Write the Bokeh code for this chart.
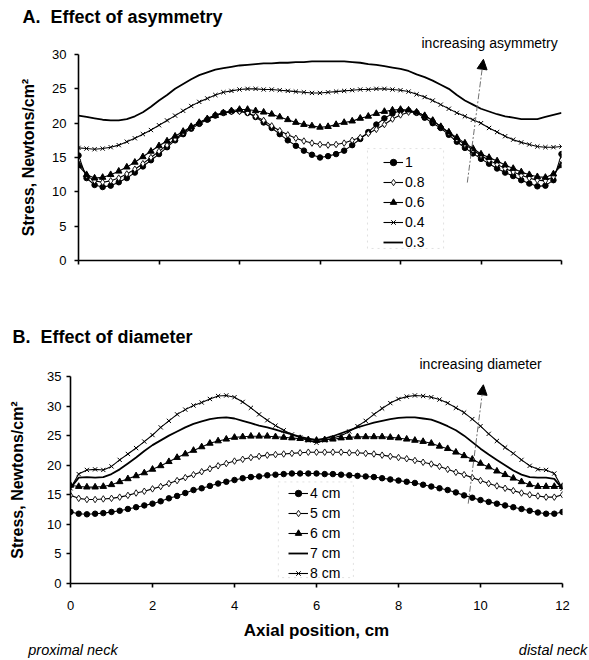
from bokeh.plotting import figure
from bokeh.models import (Range1d, Arrow, NormalHead, Legend, LegendItem,
                          FixedTicker, Title, LinearAxis, CustomJSTickFormatter,
                          BoxAnnotation)
from bokeh.layouts import column
from bokeh.embed import file_html
from bokeh.resources import INLINE

FONT = "Liberation Sans"

# ---------------- data ----------------
axial_position = [0.0, 0.2, 0.4, 0.6, 0.8, 1.0, 1.2, 1.4, 1.6, 1.8,
                  2.0, 2.2, 2.4, 2.6, 2.8, 3.0, 3.2, 3.4, 3.6, 3.8,
                  4.0, 4.2, 4.4, 4.6, 4.8, 5.0, 5.2, 5.4, 5.6, 5.8,
                  6.0, 6.2, 6.4, 6.6, 6.8, 7.0, 7.2, 7.4, 7.6, 7.8,
                  8.0, 8.2, 8.4, 8.6, 8.8, 9.0, 9.2, 9.4, 9.6, 9.8,
                  10.0, 10.2, 10.4, 10.6, 10.8, 11.0, 11.2, 11.4, 11.6, 11.8,
                  12.0]

# Panel A: effect of asymmetry
asym_labels = ["1", "0.8", "0.6", "0.4", "0.3"]
asym_1 = [15.3, 12.0, 11.0, 10.7, 10.9, 11.4, 12.0, 12.8, 13.7, 14.6,
          15.5, 16.5, 17.5, 18.4, 19.2, 19.9, 20.5, 21.1, 21.5, 21.7,
          21.8, 21.5, 20.9, 20.1, 19.3, 18.4, 17.5, 16.7, 16.0, 15.4,
          15.0, 15.2, 15.5, 16.0, 16.8, 17.7, 18.7, 19.8, 20.7, 21.4,
          21.8, 21.8, 21.5, 20.8, 20.0, 19.3, 18.3, 17.3, 16.4, 15.6,
          14.8, 14.1, 13.4, 12.8, 12.3, 11.7, 11.2, 10.8, 10.9, 11.7,
          15.5]
asym_08 = [14.6, 12.4, 11.6, 11.4, 11.6, 12.0, 12.6, 13.3, 14.1, 15.0,
           15.9, 16.8, 17.7, 18.6, 19.4, 20.1, 20.7, 21.2, 21.5, 21.7,
           21.7, 21.5, 21.0, 20.4, 19.6, 18.9, 18.3, 17.8, 17.4, 17.1,
           16.9, 16.8, 16.9, 17.1, 17.5, 17.9, 18.5, 19.1, 19.8, 20.6,
           21.2, 21.6, 21.6, 21.1, 20.4, 19.5, 18.6, 17.7, 16.9, 16.1,
           15.3, 14.6, 14.0, 13.4, 12.9, 12.4, 12.0, 11.7, 11.6, 12.2,
           14.6]
asym_06 = [13.8, 12.5, 12.0, 12.1, 12.5, 13.0, 13.6, 14.3, 15.1, 15.9,
           16.7, 17.4, 18.1, 18.8, 19.5, 20.1, 20.6, 21.1, 21.5, 21.8,
           22.0, 22.0, 21.8, 21.6, 21.3, 20.9, 20.5, 20.1, 19.8, 19.6,
           19.4, 19.5, 19.8, 20.1, 20.3, 20.7, 21.0, 21.4, 21.7, 21.9,
           22.0, 21.9, 21.6, 21.1, 20.4, 19.5, 18.7, 17.9, 17.1, 16.3,
           15.5, 15.0, 14.5, 13.9, 13.4, 12.9, 12.5, 12.2, 12.1, 12.6,
           13.8]
asym_04 = [16.4, 16.3, 16.2, 16.3, 16.5, 16.8, 17.3, 17.8, 18.4, 19.0,
           19.7, 20.4, 21.1, 21.8, 22.5, 23.1, 23.6, 24.1, 24.5, 24.7,
           24.9, 25.0, 25.0, 24.9, 24.9, 24.8, 24.7, 24.6, 24.5, 24.4,
           24.4, 24.5, 24.6, 24.7, 24.8, 24.9, 24.9, 25.0, 25.0, 24.9,
           24.8, 24.6, 24.2, 23.8, 23.3, 22.7, 22.1, 21.5, 21.0, 20.5,
           20.0, 19.3, 18.7, 18.1, 17.6, 17.2, 16.9, 16.6, 16.5, 16.5,
           16.6]
asym_03 = [21.1, 20.9, 20.7, 20.5, 20.4, 20.4, 20.6, 21.0, 21.6, 22.4,
           23.3, 24.1, 25.0, 25.7, 26.4, 27.0, 27.4, 27.8, 28.0, 28.2,
           28.4, 28.5, 28.6, 28.7, 28.7, 28.8, 28.8, 28.9, 28.9, 29.0,
           29.0, 29.0, 29.0, 29.0, 28.9, 28.8, 28.6, 28.5, 28.3, 28.1,
           27.9, 27.6, 27.1, 26.7, 26.2, 25.6, 25.0, 24.1, 23.3, 22.7,
           22.1, 21.7, 21.3, 21.0, 20.8, 20.6, 20.6, 20.6, 20.9, 21.2,
           21.5]

# Panel B: effect of diameter
diam_labels = ["4 cm", "5 cm", "6 cm", "7 cm", "8 cm"]
diam_4 = [12.1, 11.8, 11.7, 11.8, 11.9, 12.1, 12.3, 12.6, 12.9, 13.2,
          13.5, 13.9, 14.4, 14.8, 15.3, 15.8, 16.1, 16.5, 16.9, 17.2,
          17.5, 17.8, 18.0, 18.1, 18.3, 18.4, 18.5, 18.6, 18.6, 18.6,
          18.6, 18.5, 18.5, 18.4, 18.3, 18.2, 18.1, 18.0, 17.8, 17.6,
          17.4, 17.2, 17.0, 16.7, 16.4, 16.1, 15.8, 15.4, 14.9, 14.5,
          14.1, 13.8, 13.5, 13.2, 12.9, 12.6, 12.3, 12.0, 11.8, 11.8,
          12.1]
diam_5 = [14.9, 14.4, 14.2, 14.2, 14.3, 14.4, 14.6, 14.9, 15.3, 15.6,
          16.0, 16.4, 16.9, 17.4, 17.9, 18.4, 18.9, 19.4, 19.9, 20.3,
          20.7, 21.0, 21.3, 21.5, 21.7, 21.8, 21.9, 22.0, 22.1, 22.2,
          22.2, 22.2, 22.2, 22.2, 22.1, 22.1, 22.0, 21.9, 21.7, 21.5,
          21.3, 21.1, 20.8, 20.5, 20.2, 19.8, 19.3, 18.8, 18.4, 17.9,
          17.4, 16.9, 16.5, 16.1, 15.7, 15.3, 15.0, 14.8, 14.6, 14.6,
          15.0]
diam_6 = [16.6, 16.4, 16.3, 16.3, 16.4, 16.7, 17.2, 17.7, 18.2, 18.7,
          19.3, 19.9, 20.6, 21.3, 21.9, 22.5, 23.1, 23.7, 24.1, 24.4,
          24.7, 24.8, 24.9, 24.9, 24.9, 24.8, 24.7, 24.6, 24.5, 24.3,
          24.2, 24.3, 24.4, 24.6, 24.7, 24.8, 24.8, 24.8, 24.8, 24.7,
          24.6, 24.4, 24.2, 24.0, 23.7, 23.2, 22.8, 22.2, 21.6, 21.0,
          20.3, 19.7, 19.0, 18.4, 17.8, 17.2, 16.7, 16.4, 16.4, 16.4,
          16.4]
diam_7 = [16.1, 17.9, 18.0, 17.9, 18.0, 18.5, 19.3, 20.3, 21.3, 22.4,
          23.4, 24.2, 25.0, 25.7, 26.4, 27.0, 27.4, 27.8, 28.0, 28.1,
          27.9, 27.5, 27.1, 26.7, 26.4, 26.0, 25.6, 25.2, 24.8, 24.5,
          24.3, 24.5, 24.9, 25.4, 25.9, 26.4, 26.8, 27.2, 27.5, 27.8,
          28.0, 28.1, 28.1, 27.9, 27.7, 27.2, 26.6, 25.9, 25.0, 23.9,
          22.8, 21.8, 20.9, 20.0, 19.1, 18.4, 18.0, 17.9, 17.9, 17.7,
          16.0]
diam_8 = [16.1, 18.5, 19.2, 19.3, 19.2, 19.8, 20.9, 21.9, 22.9, 24.0,
          25.1, 26.4, 27.5, 28.6, 29.4, 30.1, 30.6, 31.2, 31.7, 31.8,
          31.5, 30.7, 29.7, 28.6, 27.6, 26.7, 25.9, 25.2, 24.7, 24.2,
          23.8, 24.2, 24.6, 25.0, 25.7, 26.6, 27.5, 28.6, 29.6, 30.5,
          31.2, 31.6, 31.8, 31.7, 31.5, 31.1, 30.5, 29.7, 28.9, 27.8,
          26.6, 25.3, 24.1, 23.0, 22.0, 20.9, 19.9, 19.3, 19.2, 18.6,
          16.0]

x_ticks = [0, 2, 4, 6, 8, 10, 12]
asym_y_ticks = [0, 5, 10, 15, 20, 25, 30]
diam_y_ticks = [0, 5, 10, 15, 20, 25, 30, 35]
end_positions = [0.06, 11.77]          # centres of the end captions
end_captions = ["proximal neck", "distal neck"]

# ---------------- helpers ----------------
def style_axes(p, yticks, show_x_labels):
    p.outline_line_color = None
    p.grid.visible = False
    p.background_fill_color = "white"
    p.border_fill_color = "white"
    for ax in (p.xaxis[0], p.yaxis[0]):
        ax.axis_line_width = 1.6
        ax.axis_line_color = "black"
        ax.major_tick_line_width = 1.6
        ax.major_tick_line_color = "black"
        ax.major_tick_in = 0
        ax.major_tick_out = 4
        ax.minor_tick_line_color = None
        ax.major_label_text_font = FONT
        ax.major_label_text_font_size = "13px"
        ax.major_label_text_color = "black"
        ax.axis_label_text_font = FONT
        ax.axis_label_text_font_style = "bold"
        ax.axis_label_text_color = "black"
    p.xaxis[0].ticker = FixedTicker(ticks=x_ticks, minor_ticks=[])
    p.yaxis[0].ticker = FixedTicker(ticks=yticks, minor_ticks=[])
    if not show_x_labels:
        p.xaxis[0].major_label_text_color = None


def add_series(p, y, kind):
    r = [p.line(axial_position, y, line_color="black",
                line_width=1.8 if kind == "line" else 1.1)]
    if kind == "circle":
        r.append(p.scatter(axial_position, y, marker="circle", size=5.5,
                           fill_color="black", line_color="black"))
    elif kind == "diamond":
        r.append(p.scatter(axial_position, y, marker="diamond", size=6.5,
                           fill_color="white", line_color="black", line_width=0.9))
    elif kind == "triangle":
        r.append(p.scatter(axial_position, y, marker="triangle", size=6.5,
                           fill_color="black", line_color="black"))
    elif kind == "x":
        r.append(p.scatter(axial_position, y, marker="x", size=6,
                           line_color="black", line_width=1))
    return r


def add_legend(p, items, loc, box):
    # dotted frame of the legend (wider than Bokeh's own uniform padding)
    left, right, top, bottom = box
    p.add_layout(BoxAnnotation(left=left, right=right, top=top, bottom=bottom,
                               fill_color="white", fill_alpha=1,
                               line_color="#9a9a9a", line_dash="dotted",
                               line_width=1))
    lg = Legend(items=items, location=loc)
    lg.label_text_font = FONT
    lg.label_text_font_size = "14px"
    lg.label_text_color = "black"
    lg.glyph_width = 20
    lg.glyph_height = 16
    lg.label_height = 16
    lg.label_standoff = 2
    lg.spacing = 4
    lg.padding = 2
    lg.margin = 0
    lg.border_line_color = None
    lg.background_fill_alpha = 0
    p.add_layout(lg)


def add_titles(p, note, note_offset, note_standoff, heading, heading_offset,
               heading_standoff):
    p.add_layout(Title(text=note, align="left", offset=note_offset,
                       standoff=note_standoff,
                       text_font=FONT, text_font_size="14px",
                       text_font_style="normal", text_color="black"), "above")
    p.add_layout(Title(text=heading, align="left", offset=heading_offset,
                       standoff=heading_standoff,
                       text_font=FONT, text_font_size="18px",
                       text_font_style="bold", text_color="black"), "above")


# ---------------- panel A ----------------
pa = figure(width=589, height=290, x_range=Range1d(0, 12), y_range=Range1d(0, 30),
            output_backend="svg", toolbar_location=None, title=None,
            min_border_left=78, min_border_right=28,
            min_border_top=54, min_border_bottom=30)
pa.frame_align = False
style_axes(pa, asym_y_ticks, False)
pa.yaxis.axis_label = "Stress, Newtons/cm²"
pa.yaxis.axis_label_text_font_size = "16px"
pa.yaxis.major_label_standoff = 8
pa.yaxis.axis_label_standoff = 12

kinds = ["circle", "diamond", "triangle", "x", "line"]
asym_series = [asym_1, asym_08, asym_06, asym_04, asym_03]
items_a = []
for lab, ys, k in zip(asym_labels, asym_series, kinds):
    items_a.append(LegendItem(label=lab, renderers=add_series(pa, ys, k)))
add_legend(pa, items_a, (305, 10), (7.18, 9.07, 16.3, 1.75))

pa.add_layout(Arrow(end=NormalHead(size=10, fill_color="black", line_color="black"),
                    x_start=9.66, y_start=11.35, x_end=10.06, y_end=29.3,
                    line_color="#707070", line_width=1, line_dash="6 2 2 2"))
add_titles(pa, "increasing asymmetry", 343, 7,
           "A.\u00a0 Effect of asymmetry", -56, 6)

# ---------------- panel B ----------------
pb = figure(width=589, height=370, x_range=Range1d(0, 12), y_range=Range1d(0, 35),
            output_backend="svg", toolbar_location=None, title=None,
            min_border_left=70, min_border_right=27,
            min_border_top=86, min_border_bottom=74)
pb.frame_align = False
style_axes(pb, diam_y_ticks, True)
pb.yaxis.axis_label = "Stress, Newtons/cm²"
pb.yaxis.axis_label_text_font_size = "16px"
pb.yaxis.major_label_standoff = 5
pb.yaxis.axis_label_standoff = 18
pb.xaxis.axis_label = "Axial position, cm"
pb.xaxis.axis_label_text_font_size = "17px"
pb.xaxis.major_label_standoff = 13
pb.xaxis.axis_label_standoff = 8

kinds_b = ["circle", "diamond", "triangle", "line", "x"]
diam_series = [diam_4, diam_5, diam_6, diam_7, diam_8]
items_b = []
for lab, ys, k in zip(diam_labels, diam_series, kinds_b):
    items_b.append(LegendItem(label=lab, renderers=add_series(pb, ys, k)))
add_legend(pb, items_b, (218, 2), (5.07, 6.90, 17.17, 1.0))

pb.add_layout(Arrow(end=NormalHead(size=10, fill_color="black", line_color="black"),
                    x_start=9.7, y_start=13.5, x_end=10.07, y_end=33.6,
                    line_color="#707070", line_width=1, line_dash="6 2 2 2"))
add_titles(pb, "increasing diameter", 349, 9,
           "B.\u00a0 Effect of diameter", -58, 6)

# end captions drawn as an extra, line-less axis below the main x axis
captions = LinearAxis(ticker=FixedTicker(ticks=end_positions, minor_ticks=[]),
                      formatter=CustomJSTickFormatter(
                          args=dict(caps=end_captions),
                          code="return tick < 6 ? caps[0] : caps[1];"))
captions.axis_line_color = None
captions.major_tick_line_color = None
captions.minor_tick_line_color = None
captions.major_tick_out = 0
captions.major_tick_in = 0
captions.major_label_standoff = -1
captions.major_label_text_font = FONT
captions.major_label_text_font_size = "14.5px"
captions.major_label_text_font_style = "italic"
captions.major_label_text_color = "black"
pb.add_layout(captions, "below")

layout = column(pa, pb, spacing=0)
open("out.html", "w").write(file_html(layout, INLINE))
